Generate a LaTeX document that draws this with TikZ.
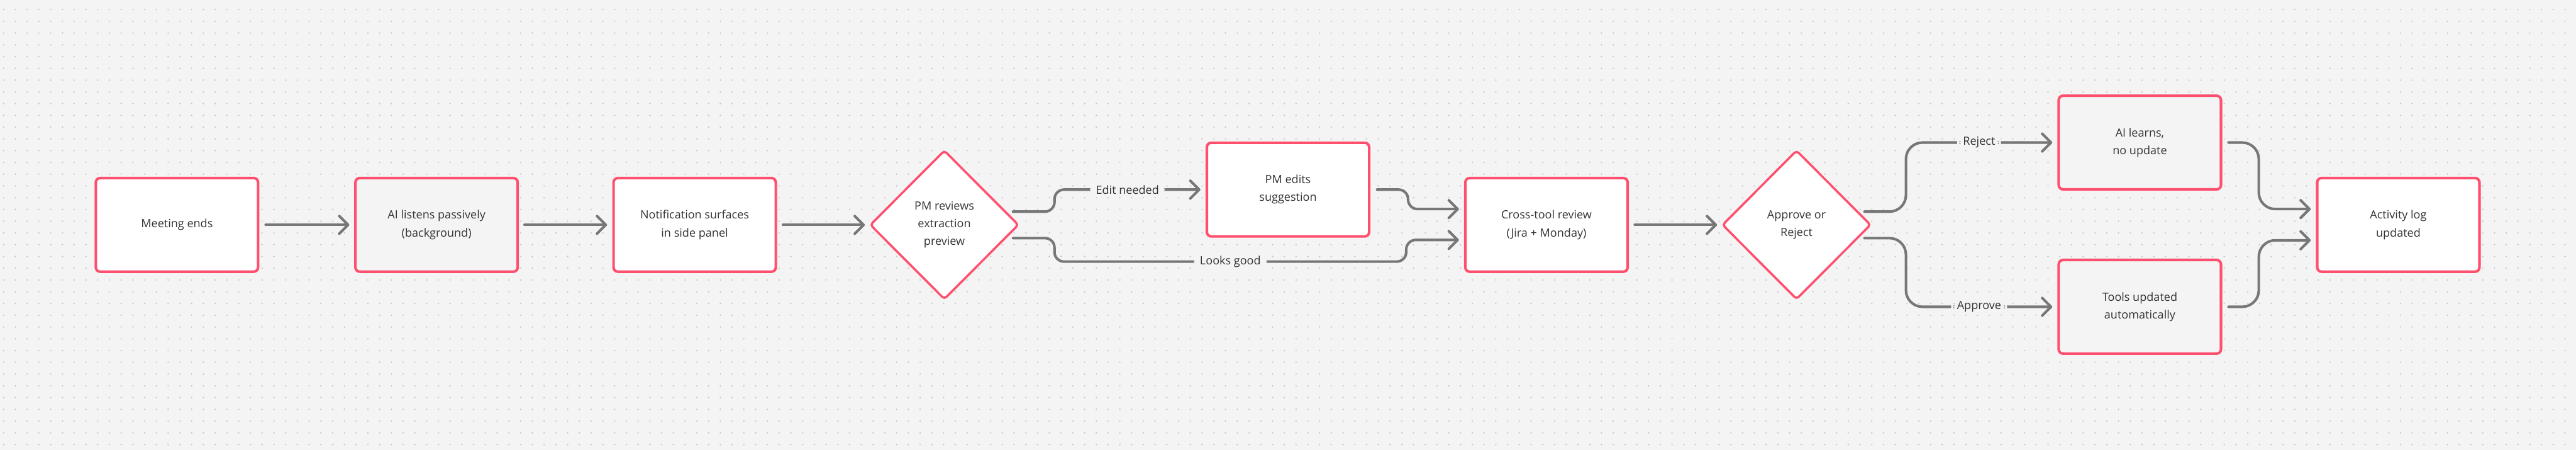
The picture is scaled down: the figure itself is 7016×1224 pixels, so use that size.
\documentclass[tikz,border=0pt]{standalone}
\usepackage{fontspec}
\setmainfont{Open Sans}
\usetikzlibrary{shapes.geometric,arrows.meta,calc}
\definecolor{bg}{HTML}{F4F4F4}
\definecolor{dotc}{HTML}{C8C8C8}
\definecolor{boxred}{HTML}{FF4F6E}
\definecolor{boxgray}{HTML}{F4F4F4}
\definecolor{linegray}{HTML}{777777}
\definecolor{txt}{HTML}{333333}
\begin{document}
\begin{tikzpicture}[x=0.1mm,y=-0.1mm,
  lbltext/.style={font=\fontsize{8.8pt}{13.7pt}\selectfont, text=txt},
  box/.style={lbltext, rectangle, draw=boxred, line width=0.7mm, rounded corners=1.2mm, minimum width=44.2mm, minimum height=25.5mm, inner sep=0pt, fill=white, align=center},
  gbox/.style={box, fill=boxgray},
  dia/.style={lbltext, diamond, draw=boxred, line width=0.6mm, rounded corners=0.8mm, fill=white, minimum width=40.5mm, minimum height=40.6mm, inner sep=0pt, aspect=1, align=center},
  conn/.style={draw=linegray, line width=0.7mm, line cap=round, line join=round, -{Straight Barb[length=2.4mm,width=4.8mm,round]}},
  lbl/.style={lbltext, fill=bg, inner xsep=1.6mm, inner ysep=0.6mm},
  sr/.style={rounded corners=2.6mm},
  lr/.style={rounded corners=4.5mm}]

% background and dot grid
\fill[bg] (0,0) rectangle (7016,1224);
\useasboundingbox (0,0) rectangle (7016,1224);
\foreach \r in {0,...,37}
  \draw[dotc, line width=0.45mm, line cap=round, dash pattern=on 0pt off 3.2mm] (10,{26+32*\r}) -- (7000,{26+32*\r});

% nodes
\node[box]  (n1) at (482,612)  {Meeting ends};
\node[gbox] (n2) at (1189,612) {AI listens passively\\(background)};
\node[box]  (n3) at (1892,612) {Notification surfaces\\in side panel};
\node[dia]  (d1) at (2572,612) {PM reviews\\extraction\\preview};
\node[box]  (n4) at (3508,516) {PM edits\\suggestion};
\node[box]  (n5) at (4212,612) {Cross-tool review\\(Jira + Monday)};
\node[dia]  (d2) at (4893,612) {Approve or\\Reject};
\node[gbox] (n6) at (5828,388) {AI learns,\\no update};
\node[gbox] (n7) at (5828,835) {Tools updated\\automatically};
\node[box]  (n8) at (6532,612) {Activity log\\updated};

% connectors
\draw[conn] ([xshift=1.7mm]n1.east) -- ([xshift=-1.3mm]n2.west);
\draw[conn] ([xshift=1.5mm]n2.east) -- ([xshift=-1.4mm]n3.west);
\draw[conn] ([xshift=1.6mm]n3.east) -- ([xshift=-1.1mm]d1.west);

\draw[conn,sr] ($(d1)+(187,-36)$) -| ($(d1)+(300,-96)$)
  -- node[lbl]{Edit needed} ([xshift=-1.4mm]n4.west);
\draw[conn,sr] ($(d1)+(187,36)$) -| ($(d1)+(300,100)$)
  -| node[lbl,pos=0.25]{Looks good} ($(n5)+(-382,41)$)
  -- ([xshift=-1.4mm,yshift=-4.1mm]n5.west);
\draw[conn,sr] ([xshift=1.8mm]n4.east) -| ($(n5)+(-377,-43)$)
  -- ([xshift=-1.4mm,yshift=4.3mm]n5.west);

\draw[conn] ([xshift=1.6mm]n5.east) -- ([xshift=-1.1mm]d2.west);

\draw[conn,lr] ($(d2)+(185,-36)$) -| ($(d2)+(298,-224)$)
  -- node[lbl]{Reject} ([xshift=-1.4mm]n6.west);
\draw[conn,lr] ($(d2)+(185,36)$) -| ($(d2)+(298,223)$)
  -- node[lbl]{Approve} ([xshift=-1.4mm]n7.west);

\draw[conn,lr] ([xshift=1.7mm]n6.east) -| ($(n8)+(-380,-43)$)
  -- ([xshift=-1.4mm,yshift=4.3mm]n8.west);
\draw[conn,lr] ([xshift=1.7mm]n7.east) -| ($(n8)+(-380,42)$)
  -- ([xshift=-1.4mm,yshift=-4.2mm]n8.west);
\end{tikzpicture}
\end{document}
